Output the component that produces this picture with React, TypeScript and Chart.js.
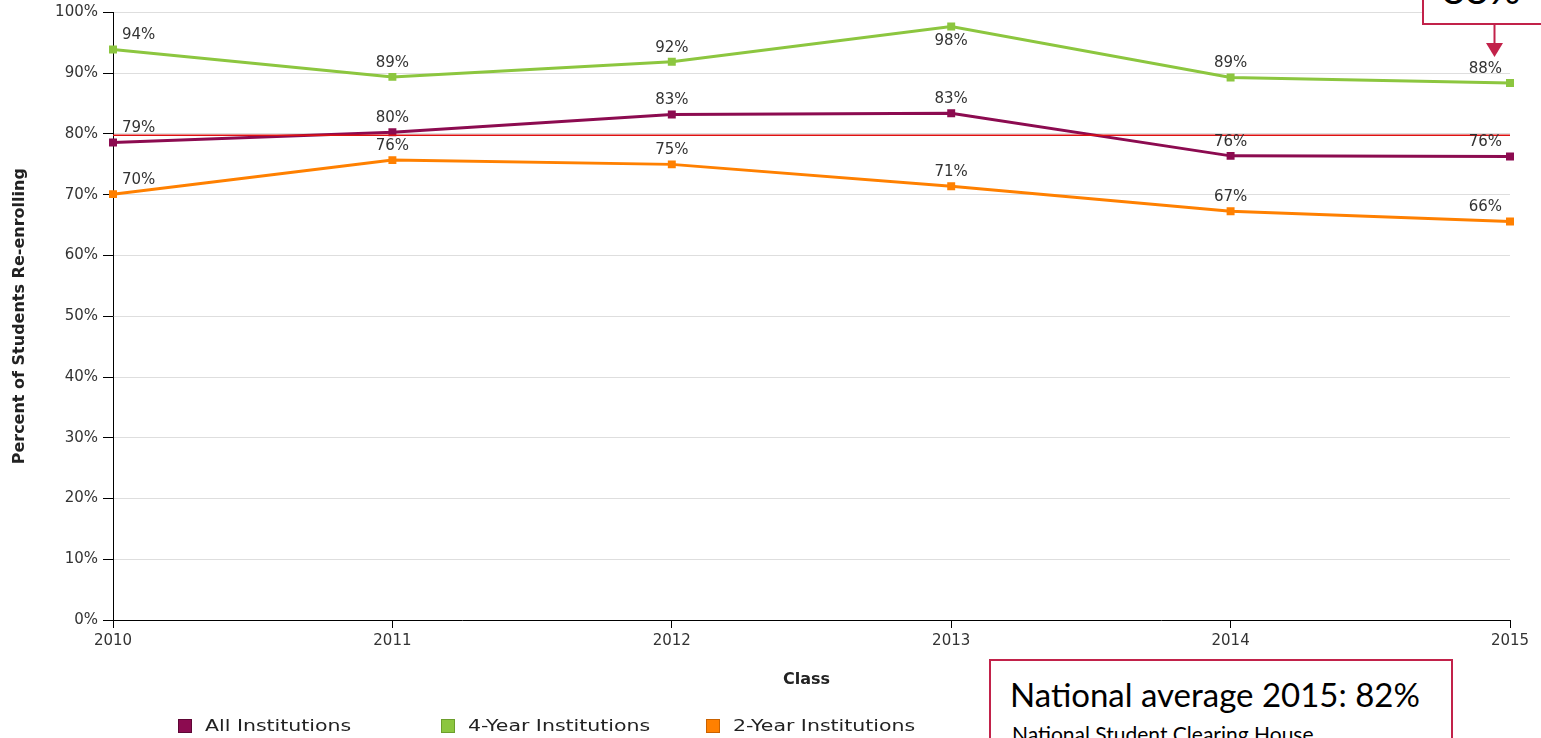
import React, { useEffect, useRef } from "react";
import { Chart, registerables } from "chart.js";

Chart.register(...registerables);

const classes = ["2010", "2011", "2012", "2013", "2014", "2015"];
const allInstitutions = [78.6, 80.3, 83.2, 83.4, 76.4, 76.3];
const fourYearInstitutions = [93.9, 89.4, 91.9, 97.7, 89.3, 88.4];
const twoYearInstitutions = [70.1, 75.7, 75.0, 71.4, 67.3, 65.6];
const referenceLine = [79.8, 79.8, 79.8, 79.8, 79.8, 79.8];
const seriesNames = ["All Institutions", "4-Year Institutions", "2-Year Institutions"];
const seriesColors = ["#8C0B50", "#8CC63F", "#FF8000"];
const legendBorder = ["#5E0635", "#6C9E2C", "#C96200"];
const yTitle = "Percent of Students Re-enrolling";
const xTitle = "Class";
const calloutValue = "88%";
const noteTitle = "National average 2015: 82%";
const noteSource = "National Student Clearing House";

const FONT = "'DejaVu Sans', Verdana, sans-serif";

const overlayPlugin = {
  id: "overlayPlugin",
  afterDatasetsDraw(chart: any) {
    const ctx = chart.ctx;
    const area = chart.chartArea;
    ctx.save();
    ctx.font = `15px ${FONT}`;
    ctx.fillStyle = "#333";
    ctx.textBaseline = "middle";
    for (let d = 0; d < 3; d++) {
      const meta = chart.getDatasetMeta(d);
      const data = chart.data.datasets[d].data as number[];
      const n = meta.data.length;
      meta.data.forEach((pt: any, i: number) => {
        let x = pt.x;
        if (i === 0) {
          ctx.textAlign = "left";
          x += 9;
        } else if (i === n - 1) {
          ctx.textAlign = "right";
          x -= 8;
        } else {
          ctx.textAlign = "center";
        }
        let y = pt.y - 14;
        if (y < area.top + 10) y = pt.y + 15;
        ctx.fillText(Math.round(data[i]) + "%", x, y);
      });
    }

    // axis titles
    ctx.fillStyle = "#222";
    ctx.font = `bold 16px ${FONT}`;
    ctx.textAlign = "center";
    ctx.textBaseline = "middle";
    ctx.fillText(xTitle, (area.left + area.right) / 2 - 5, 680);
    ctx.save();
    ctx.translate(20, (area.top + area.bottom) / 2);
    ctx.rotate(-Math.PI / 2);
    ctx.fillText(yTitle, 0, 0);
    ctx.restore();

    // legend
    const legendX = [178, 441, 706];
    ctx.font = `16px ${FONT}`;
    ctx.textAlign = "left";
    ctx.textBaseline = "middle";
    for (let i = 0; i < 3; i++) {
      ctx.fillStyle = seriesColors[i];
      ctx.fillRect(legendX[i], 719, 14, 14);
      ctx.strokeStyle = legendBorder[i];
      ctx.lineWidth = 1;
      ctx.strokeRect(legendX[i] + 0.5, 719.5, 13, 13);
      ctx.fillStyle = "#222";
      ctx.save();
      ctx.translate(legendX[i] + 27, 727);
      ctx.scale(1.28, 1);
      ctx.fillText(seriesNames[i], 0, 0);
      ctx.restore();
    }
    ctx.restore();
  },
};

export default function App() {
  const canvasRef = useRef<HTMLCanvasElement | null>(null);

  useEffect(() => {
    if (!canvasRef.current) return;
    const chart = new Chart(canvasRef.current, {
      type: "line",
      data: {
        labels: classes,
        datasets: [
          {
            label: seriesNames[0],
            data: allInstitutions,
            borderColor: seriesColors[0],
            backgroundColor: seriesColors[0],
            borderWidth: 3,
            pointStyle: "rect",
            pointRadius: 3.5,
            tension: 0,
            order: 1,
          },
          {
            label: seriesNames[1],
            data: fourYearInstitutions,
            borderColor: seriesColors[1],
            backgroundColor: seriesColors[1],
            borderWidth: 3,
            pointStyle: "rect",
            pointRadius: 3.5,
            tension: 0,
            order: 1,
          },
          {
            label: seriesNames[2],
            data: twoYearInstitutions,
            borderColor: seriesColors[2],
            backgroundColor: seriesColors[2],
            borderWidth: 3,
            pointStyle: "rect",
            pointRadius: 3.5,
            tension: 0,
            order: 1,
          },
          {
            label: "Reference",
            data: referenceLine,
            borderColor: "#DD1111",
            borderWidth: 1.5,
            pointRadius: 0,
            tension: 0,
            order: 0,
          },
        ],
      },
      options: {
        responsive: false,
        animation: false,
        layout: { padding: { top: 12, right: 31, left: 0, bottom: 0 } },
        plugins: {
          legend: { display: false },
          tooltip: { enabled: false },
        },
        scales: {
          x: {
            type: "category",
            offset: false,
            grid: { drawOnChartArea: false, drawTicks: true, tickLength: 8, color: "#000" },
            border: { color: "#000", width: 1 },
            ticks: {
              font: { family: FONT, size: 15 },
              color: "#333",
              padding: 4,
              maxRotation: 0,
              autoSkip: false,
            },
            afterFit(scale: any) {
              scale.height = 118;
            },
          },
          y: {
            min: 0,
            max: 100,
            ticks: {
              stepSize: 10,
              callback: (v: any) => v + "%",
              font: { family: FONT, size: 15, lineHeight: 1 },
              color: "#333",
              padding: 5,
            },
            grid: { color: "#dedede", tickColor: "#000", tickLength: 10 },
            border: { color: "#000", width: 1 },
            afterFit(scale: any) {
              scale.width = 113;
            },
          },
        },
      },
      plugins: [overlayPlugin],
    });
    return () => chart.destroy();
  }, []);

  const crimson = "#C2224A";
  return (
    <div
      style={{
        position: "absolute",
        left: 0,
        top: 0,
        width: 1541,
        height: 738,
        overflow: "hidden",
        background: "#fff",
      }}
    >
      <canvas ref={canvasRef} width={1541} height={738} style={{ display: "block" }} />
      {/* top-right callout */}
      <div
        style={{
          position: "absolute",
          left: 1422,
          top: -21,
          width: 160,
          height: 46,
          boxSizing: "border-box",
          border: `2px solid ${crimson}`,
          background: "#fff",
        }}
      />
      <div
        style={{
          position: "absolute",
          left: 1442,
          top: -31,
          fontFamily: "Lato, 'Gill Sans', sans-serif",
          fontSize: 40,
          lineHeight: "40px",
          color: "#000",
          whiteSpace: "nowrap",
        }}
      >
        {calloutValue}
      </div>
      <svg
        style={{ position: "absolute", left: 0, top: 0, pointerEvents: "none" }}
        width={1541}
        height={738}
      >
        <line x1={1494.5} y1={25} x2={1494.5} y2={45} stroke={crimson} strokeWidth={2} />
        <polygon points="1486,43 1503,43 1494.5,57" fill={crimson} />
      </svg>
      {/* bottom-right note */}
      <div
        style={{
          position: "absolute",
          left: 989,
          top: 659,
          width: 464,
          height: 120,
          boxSizing: "border-box",
          border: `2px solid ${crimson}`,
          background: "#fff",
        }}
      />
      <div
        style={{
          position: "absolute",
          left: 1010,
          top: 678,
          fontFamily: "Lato, 'Gill Sans', sans-serif",
          fontSize: 33,
          lineHeight: "33px",
          color: "#000",
          whiteSpace: "nowrap",
        }}
      >
        {noteTitle}
      </div>
      <div
        style={{
          position: "absolute",
          left: 1012,
          top: 723,
          fontFamily: "Lato, 'Gill Sans', sans-serif",
          fontSize: 21,
          lineHeight: "21px",
          color: "#000",
          whiteSpace: "nowrap",
        }}
      >
        {noteSource}
      </div>
    </div>
  );
}
